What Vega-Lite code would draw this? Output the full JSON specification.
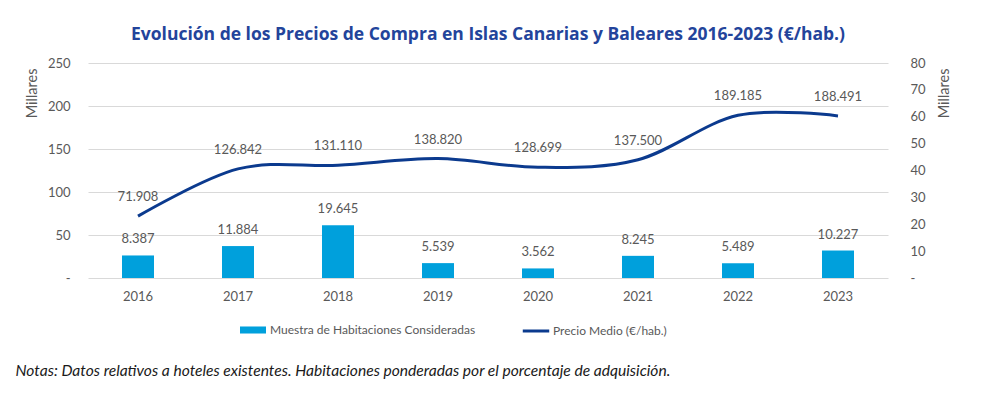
{
  "$schema": "https://vega.github.io/schema/vega-lite/v6.json",
  "width": 800,
  "height": 215,
  "autosize": "none",
  "padding": {"left": 88, "top": 63, "right": 112, "bottom": 117},
  "background": "white",
  "config": {
    "locale": {"number": {"decimal": ",", "thousands": ".", "grouping": [3], "currency": ["", "€"]}},
    "view": {"stroke": null},
    "font": "Lato"
  },
  "title": {
    "text": "Evolución de los Precios de Compra en Islas Canarias y Baleares 2016-2023 (€/hab.)",
    "font": "Open Sans",
    "fontSize": 17.5,
    "fontWeight": "bold",
    "color": "#23449B",
    "anchor": "middle",
    "offset": 14
  },
  "data": {
    "values": [
      {"year": "2016", "rooms": 8387, "price": 71908},
      {"year": "2017", "rooms": 11884, "price": 126842},
      {"year": "2018", "rooms": 19645, "price": 131110},
      {"year": "2019", "rooms": 5539, "price": 138820},
      {"year": "2020", "rooms": 3562, "price": 128699},
      {"year": "2021", "rooms": 8245, "price": 137500},
      {"year": "2022", "rooms": 5489, "price": 189185},
      {"year": "2023", "rooms": 10227, "price": 188491}
    ]
  },
  "encoding": {
    "x": {
      "field": "year",
      "type": "ordinal",
      "scale": {"paddingInner": 0.68, "paddingOuter": 0.34},
      "axis": {
        "labelAngle": 0,
        "ticks": false,
        "domain": false,
        "grid": false,
        "labelPadding": 12,
        "labelFontSize": 13,
        "labelColor": "#595959",
        "title": "Notas: Datos relativos a hoteles existentes. Habitaciones ponderadas por el porcentaje de adquisición.",
        "titleFont": "Lato",
        "titleFontStyle": "italic",
        "titleFontWeight": "normal",
        "titleFontSize": 15.6,
        "titleColor": "#1a1a1a",
        "titleAnchor": "start",
        "titleAlign": "left",
        "titleX": -73,
        "titleY": 92,
        "titleBaseline": "middle",
        "titleLimit": 1000
      }
    }
  },
  "layer": [
    {
      "mark": {"type": "bar", "width": 32, "color": "#00A0DC"},
      "encoding": {
        "y": {
          "field": "rooms",
          "type": "quantitative",
          "scale": {"domain": [0, 80000]},
          "axis": {
            "orient": "right",
            "values": [0, 10000, 20000, 30000, 40000, 50000, 60000, 70000, 80000],
            "labelExpr": "datum.value == 0 ? '-' : format(datum.value / 1000, 'd')",
            "grid": false,
            "ticks": false,
            "domain": false,
            "labelPadding": 22,
            "labelFontSize": 13,
            "labelColor": "#595959",
            "title": "Millares",
            "titleFontWeight": "normal",
            "titleFontSize": 14.5,
            "titleColor": "#595959",
            "titleAnchor": "end",
            "titleAngle": -90,
            "titleX": 56,
            "titleY": 5,
            "titleAlign": "right",
            "titleBaseline": "middle"
          }
        },
        "fill": {
          "datum": "Muestra de Habitaciones Consideradas",
          "type": "nominal",
          "scale": {"range": ["#00A0DC"]},
          "legend": {
            "orient": "none",
            "legendX": 152,
            "legendY": 254,
            "title": null,
            "symbolType": "M-1,-0.27H1V0.27H-1Z",
            "symbolSize": 676,
            "symbolStrokeWidth": 0,
            "labelFontSize": 12,
            "labelColor": "#595959",
            "labelOffset": 4,
            "labelLimit": 500
          }
        }
      }
    },
    {
      "mark": {"type": "text", "dy": -16, "fontSize": 13, "color": "#595959", "baseline": "middle"},
      "encoding": {
        "y": {"field": "rooms", "type": "quantitative", "scale": {"domain": [0, 80000]}, "axis": null},
        "text": {"field": "rooms", "type": "quantitative", "format": ","}
      }
    },
    {
      "mark": {"type": "line", "interpolate": "cardinal", "strokeWidth": 3, "color": "#0B3A8E"},
      "encoding": {
        "y": {
          "field": "price",
          "type": "quantitative",
          "scale": {"domain": [0, 250000]},
          "axis": {
            "orient": "left",
            "values": [0, 50000, 100000, 150000, 200000, 250000],
            "labelExpr": "datum.value == 0 ? '-' : format(datum.value / 1000, 'd')",
            "grid": true,
            "gridColor": "#D9D9D9",
            "gridWidth": 1,
            "ticks": false,
            "domain": false,
            "labelPadding": 18,
            "labelFontSize": 13,
            "labelColor": "#595959",
            "title": "Millares",
            "titleFontWeight": "normal",
            "titleFontSize": 14.5,
            "titleColor": "#595959",
            "titleAnchor": "end",
            "titleAngle": -90,
            "titleX": -56,
            "titleY": 5,
            "titleAlign": "right",
            "titleBaseline": "middle"
          }
        },
        "stroke": {
          "datum": "Precio Medio (€/hab.)",
          "type": "nominal",
          "scale": {"range": ["#0B3A8E"]},
          "legend": {
            "orient": "none",
            "legendX": 433,
            "legendY": 253,
            "title": null,
            "symbolType": "stroke",
            "symbolSize": 700,
            "symbolStrokeWidth": 3,
            "labelFontSize": 12,
            "labelColor": "#595959",
            "labelOffset": 2,
            "labelLimit": 500
          }
        }
      }
    },
    {
      "mark": {"type": "text", "dy": -19, "fontSize": 13, "color": "#595959", "baseline": "middle"},
      "encoding": {
        "y": {"field": "price", "type": "quantitative", "scale": {"domain": [0, 250000]}, "axis": null},
        "text": {"field": "price", "type": "quantitative", "format": ","}
      }
    }
  ],
  "resolve": {"scale": {"y": "independent"}}
}
